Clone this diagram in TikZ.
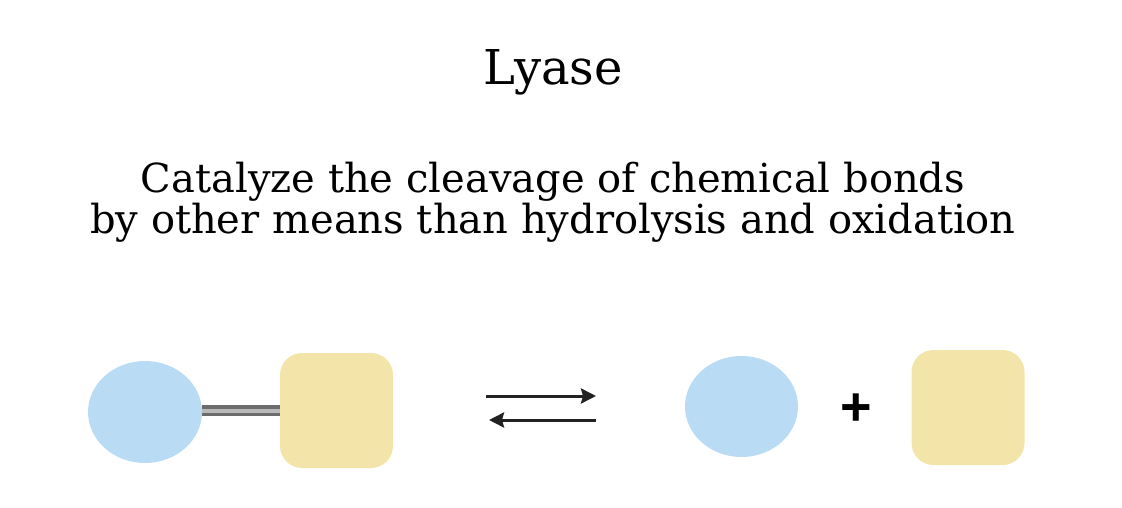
\documentclass[tikz,border=0pt]{standalone}
\usepackage{fontspec}
\setmainfont{DejaVu Serif}
\newfontfamily\plusfont{Liberation Sans}
\usetikzlibrary{shapes.geometric,arrows.meta,positioning}
\definecolor{moleblue}{HTML}{B9DCF4}
\definecolor{moleyellow}{HTML}{F3E5AA}
\definecolor{arrowgray}{HTML}{222222}
\tikzset{%
	roundpart/.style  = {ellipse, fill=moleblue, minimum width=114, minimum height=102, inner sep=0pt},
	squarepart/.style = {rectangle, rounded corners=22, fill=moleyellow, minimum width=113, minimum height=115, inner sep=0pt},
	reaction/.style   = {line width=3, arrowgray, -{Stealth[length=15, width=15, inset=2]}},
	bond/.style       = {line width=11, gray!85!black},
	bondshine/.style  = {line width=4, gray!55},
}

\begin{document}
\begin{tikzpicture}[x=1pt,y=-1pt]
	\useasboundingbox (0,0) rectangle (1122,508);
	
	\node[font=\fontsize{48}{54}\selectfont] (title) at (553,72) {Lyase};
	\node[align=center, font=\fontsize{40}{41}\selectfont] (desc) at (553,202) {Catalyze the cleavage of chemical bonds\\by other means than hydrolysis and oxidation};
	
	\node[roundpart] (subA) at (145,412) {};
	\node[squarepart] (subB) at (336.5,410.5) {};
	\draw[bond] (subA.east |- subB.west) -- (subB.west);
	\draw[bondshine] (subA.east |- subB.west) -- (subB.west);
	
	\coordinate (fwdS) at (486,396);
	\coordinate (fwdE) at (596,396);
	\coordinate (bwdS) at (596,420);
	\coordinate (bwdE) at (489,420);
	\draw[reaction] (fwdS) -- (fwdE);
	\draw[reaction] (bwdS) -- (bwdE);
	
	\node[roundpart, minimum width=113, minimum height=101] (prodA) at (741.5,406.5) {};
	\node[font=\plusfont\bfseries\fontsize{54}{54}\selectfont] (plus) at (856,410) {+};
	\node[squarepart] (prodB) at (968,407.5) {};
\end{tikzpicture}
\end{document}
